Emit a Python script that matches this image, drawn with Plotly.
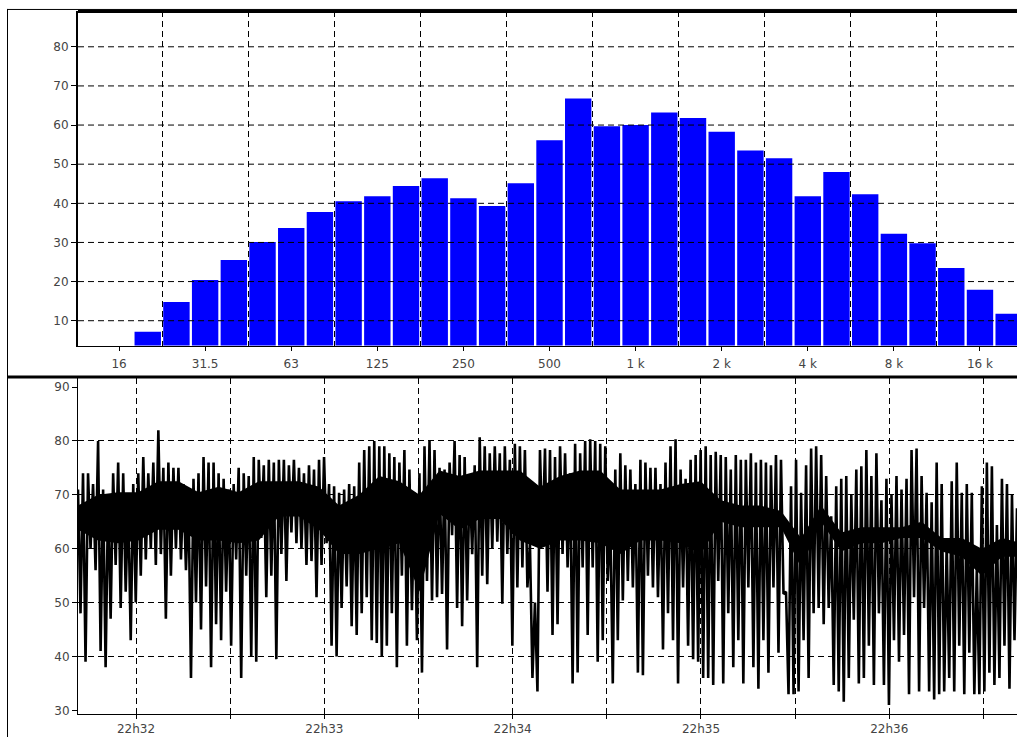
import plotly.graph_objects as go

# ---------------- top panel: 1/3-octave spectrum ----------------
bands = ["16", "20", "25", "31.5", "40", "50", "63", "80", "100", "125", "160", "200",
         "250", "315", "400", "500", "630", "800", "1k", "1.25k", "1.6k", "2k", "2.5k",
         "3.15k", "4k", "5k", "6.3k", "8k", "10k", "12.5k", "16k", "20k"]
band_levels = [None, 7.2, 14.8, 20.4, 25.5, 30.1, 33.7, 37.8, 40.5, 41.8, 44.4, 46.4,
               41.3, 39.3, 45.1, 56.1, 66.8, 59.7, 60.0, 63.2, 61.8, 58.3, 53.5,
               51.5, 41.8, 48.0, 42.3, 32.2, 29.8, 23.5, 17.9, 11.8]
freq_tick_labels = ["16", "31.5", "63", "125", "250", "500", "1 k", "2 k", "4 k", "8 k", "16 k"]
spec_y_ticks = [10, 20, 30, 40, 50, 60, 70, 80]

# ---------------- bottom panel: level vs time ----------------
# envelope: successive (high, low) samples
level_hi = [
    71, 74, 74, 72, 80, 71, 70, 74, 76, 74, 69, 72, 74, 77, 74, 76, 82, 75, 76, 75, 75, 72, 70, 73, 74, 77, 76, 76, 74, 73, 71, 72,
    75, 74, 73.5, 77, 76.5, 75.5, 76.5, 76, 76.5, 76.5, 75.5, 76.5, 75, 74, 75.5, 74.7, 76.5, 77, 72, 71.6, 70.4, 71, 72, 71.6, 76, 78.3, 79, 80, 79, 79, 77.7,
    77, 76, 78.3, 74.7, 70.4, 74, 79, 80, 78.3, 75, 74.7, 76, 80, 77.4, 77, 73.5, 75.5, 80.7, 79, 77.7, 79, 77.7, 79, 76.5, 79.5, 79, 78.3, 61, 50, 78.3, 78.6,
    78.3, 77, 79, 77.7, 74, 79.5, 77.7, 80, 80.3, 80, 79.5, 79, 66, 74.7, 77.7, 75.5, 74.7, 72, 76.5, 76, 75, 75, 72, 76, 79, 80.3, 74.7, 73, 76.5, 77.4, 78.3, 79,
    77.4, 78, 77.4, 77, 74.7, 77.4, 76.5, 76.5, 77.7, 76, 76.5, 76, 75.5, 77.4, 76.5, 52, 71.6, 76.5, 70.4, 75.5, 78.6, 79, 77.4, 73.5, 66, 71.6, 73, 73.5, 70, 74.7,
    75.3, 78.3, 73.5, 77.7, 69, 73, 70, 73.5, 71, 73, 78.3, 78.6, 73.5, 70.4, 68.6, 76, 72, 61, 72.5, 76, 70.4, 72, 70.4, 56.5, 71.6, 76, 75.3, 64.4, 73, 72, 70, 67.5,
]
level_lo = [
    48, 39, 60, 56, 41, 38, 47, 57, 49, 52, 43, 50, 55, 58, 60, 57, 59, 47, 55, 60, 58, 56, 36, 50, 45, 53, 38, 46, 43, 52, 42, 58,
    36, 55, 40, 39, 62, 51, 55, 39.5, 59, 54, 63, 61, 60, 57, 57.7, 51, 57, 61, 42, 40, 49, 53, 45.6, 44, 48, 51, 43, 42.5, 40, 42, 48,
    38, 55, 42, 48.6, 43, 37, 54, 50.4, 51, 51.6, 41.3, 62.5, 49, 45.6, 50.4, 59, 38, 55, 53.4, 60, 61.3, 49.8, 59, 42, 52.8, 56.5, 52.8, 36, 33.5, 61, 52,
    44, 46, 59, 56.5, 35, 37, 56.5, 44, 56.5, 39, 43, 54, 35, 43, 50.4, 54, 52.8, 37, 36.5, 55, 52.8, 51, 41.3, 48, 43, 35, 52.8, 42, 39.5, 39, 36, 36,
    34.7, 54, 35, 48, 38, 43, 35, 52.8, 38, 34, 43, 37, 52.8, 40.7, 51.6, 33, 33, 33.5, 43, 36, 48, 49, 46, 49, 34.7, 33.5, 31.6, 36, 46.8, 35,
    36, 42, 34.7, 48, 34.7, 31, 43, 39, 44, 33, 51, 33.5, 49, 33.5, 32, 33, 33.5, 36, 33.5, 42, 33, 40.7, 33, 33, 33.5, 37, 34.7, 36, 42, 34, 43, 51.6,
]
# dense (solid black) core of the trace, read every ~6.4 s
core_top = [68, 70, 70.5, 70.5, 72.5, 72.5, 70.5, 71.5, 70.5, 72.5, 72.5, 72.5, 71.5, 68, 70, 73.5, 72.5, 70, 74.5, 73.5,
            74.5, 74.5, 74.5, 71.5, 73.5, 74.5, 74.5, 71, 71, 71, 72, 72.5, 69, 68, 68, 67, 62, 68, 63, 64,
            64, 64, 65, 62, 62, 60, 62, 61]
core_bot = [63.5, 61.5, 61, 61.5, 63.5, 63.5, 61.5, 61.5, 61, 61.5, 66, 66, 63.5, 59, 59, 60, 61, 52, 66.5, 63.5,
            65.5, 65.5, 61.5, 60, 61.5, 61.5, 61, 59, 61.5, 61.5, 61, 59, 65, 64, 64, 64, 56.5, 65, 59.5, 61,
            61, 62, 62, 59.5, 58.5, 55, 58.5, 58.5]
time_start_s = -18.5      # seconds relative to 22h32
sample_step_s = 0.8
core_step_s = 6.4
time_tick_labels = ["22h32", "", "22h33", "", "22h34", "", "22h35", "", "22h36", ""]
level_y_ticks = [30, 40, 50, 60, 70, 80, 90]
level_grid = [40, 50, 60, 70, 80]

# ---------------- build ----------------
levels = []
for h, l in zip(level_hi, level_lo):
    levels += [h, l]
times = [time_start_s + k * sample_step_s for k in range(len(levels))]
core_times = [time_start_s + k * core_step_s for k in range(len(core_top))]

W, H = 1017, 740
X0 = 78 / W
DASH = "6px,4px"
font = dict(family="DejaVu Sans, Verdana, sans-serif", size=12, color="#444444")

fig = go.Figure()
fig.add_trace(go.Bar(x=list(range(len(bands))), y=band_levels, width=0.92,
                     marker=dict(color="#0000ff", line=dict(width=0)),
                     xaxis="x", yaxis="y", hoverinfo="skip"))
fig.add_trace(go.Scatter(x=core_times, y=core_top, mode="lines", line=dict(width=0, color="black"),
                         xaxis="x2", yaxis="y2", hoverinfo="skip"))
fig.add_trace(go.Scatter(x=core_times, y=core_bot, mode="lines", line=dict(width=0, color="black"),
                         fill="tonexty", fillcolor="black",
                         xaxis="x2", yaxis="y2", hoverinfo="skip"))
fig.add_trace(go.Scatter(x=times, y=levels, mode="lines",
                         line=dict(color="black", width=2.6),
                         xaxis="x2", yaxis="y2", hoverinfo="skip"))

fig.update_layout(
    width=W, height=H, margin=dict(l=0, r=0, t=0, b=0),
    paper_bgcolor="white", plot_bgcolor="white", showlegend=False,
    font=font,
    xaxis=dict(domain=[X0, 1], anchor="y", range=[-1.43, 31.29],
               tickmode="array", tickvals=list(range(0, len(bands), 3)), ticktext=freq_tick_labels,
               ticks="outside", ticklen=4, tickcolor="black",
               showline=True, linecolor="black", linewidth=1,
               showgrid=False, zeroline=False, ticklabelstandoff=3,
               minor=dict(tickmode="array", tickvals=[1.5 + 3 * k for k in range(10)],
                          showgrid=True, gridcolor="black", gridwidth=1, griddash=DASH, ticks="")),
    yaxis=dict(domain=[(H - 347) / H, (H - 11) / H], anchor="x", range=[3.64, 89.16],
               tickmode="array", tickvals=spec_y_ticks,
               ticks="outside", ticklen=5, tickcolor="black",
               showline=True, linecolor="black", linewidth=2,
               showgrid=False, zeroline=False),
    xaxis2=dict(domain=[X0, 1], anchor="y2", range=[-18.5, 280.7],
                tickmode="array", tickvals=[30 * k for k in range(len(time_tick_labels))],
                ticktext=time_tick_labels,
                ticks="outside", ticklen=4, tickcolor="black",
                showline=True, linecolor="black", linewidth=1,
                showgrid=True, gridcolor="black", gridwidth=1, griddash=DASH, zeroline=False),
    yaxis2=dict(domain=[(H - 717) / H, (H - 380) / H], anchor="x2", range=[29.3, 91.6],
                tickmode="array", tickvals=level_y_ticks,
                ticks="outside", ticklen=5, tickcolor="black",
                showline=True, linecolor="black", linewidth=1,
                showgrid=False, zeroline=False,
                minor=dict(tickmode="array", tickvals=level_grid, showgrid=True,
                           gridcolor="black", gridwidth=1, griddash=DASH, ticks="")),
)

shapes = []
# horizontal dashed grid of the spectrum, drawn over the bars
for v in spec_y_ticks:
    shapes.append(dict(type="line", xref="x domain", yref="y", x0=0, x1=1, y0=v, y1=v,
                       line=dict(color="black", width=1, dash=DASH), layer="above"))
# frame lines
def px(x):
    return x / W
def py(y):
    return 1 - y / H
shapes.append(dict(type="line", xref="paper", yref="paper", x0=px(7.5), x1=px(7.5), y0=py(9), y1=0,
                   line=dict(color="black", width=1)))
shapes.append(dict(type="line", xref="paper", yref="paper", x0=px(7), x1=1, y0=py(9.5), y1=py(9.5),
                   line=dict(color="black", width=1)))
shapes.append(dict(type="line", xref="paper", yref="paper", x0=X0, x1=1, y0=py(11.5), y1=py(11.5),
                   line=dict(color="black", width=3)))
shapes.append(dict(type="line", xref="paper", yref="paper", x0=px(7), x1=1, y0=py(378.5), y1=py(378.5),
                   line=dict(color="black", width=3)))
fig.update_layout(shapes=shapes)

fig.write_html("out.html", config={"displayModeBar": False},
               post_script="document.body.style.margin='0';document.body.style.overflow='hidden';")
